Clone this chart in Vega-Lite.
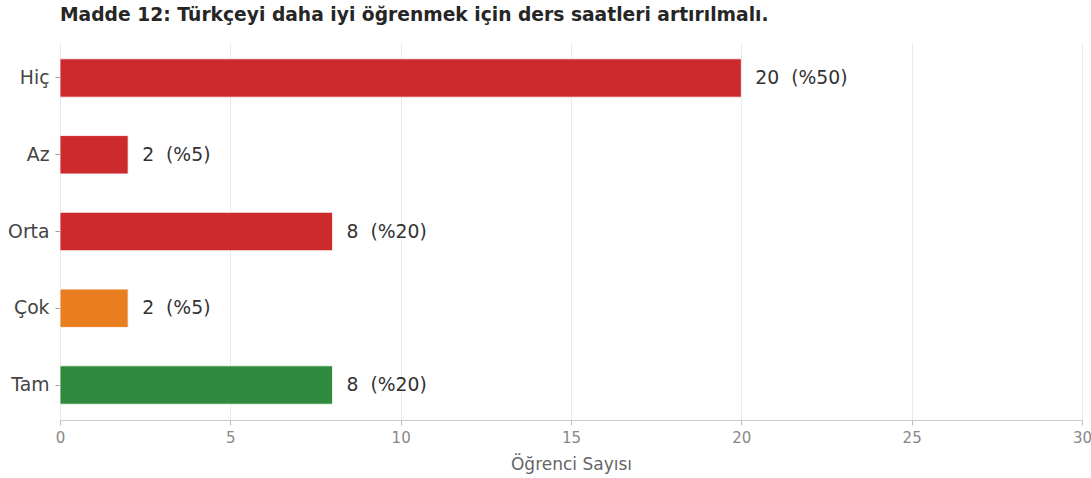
{
  "$schema": "https://vega.github.io/schema/vega-lite/v6.json",
  "width": 1022,
  "height": 377,
  "autosize": {"type": "none"},
  "padding": {"left": 60, "top": 43, "right": 9, "bottom": 58},
  "background": "white",
  "title": {
    "text": "Madde 12: Türkçeyi daha iyi öğrenmek için ders saatleri artırılmalı.",
    "anchor": "start",
    "frame": "group",
    "font": "DejaVu Sans",
    "fontSize": 18.7,
    "fontWeight": "bold",
    "color": "#262626",
    "offset": 18
  },
  "config": {
    "view": {"stroke": null},
    "font": "DejaVu Sans"
  },
  "data": {
    "values": [
      {"cevap": "Hiç", "n": 20, "label": "20 \u00a0(%50)", "grup": "olumsuz"},
      {"cevap": "Az", "n": 2, "label": "2 \u00a0(%5)", "grup": "olumsuz"},
      {"cevap": "Orta", "n": 8, "label": "8 \u00a0(%20)", "grup": "olumsuz"},
      {"cevap": "Çok", "n": 2, "label": "2 \u00a0(%5)", "grup": "orta"},
      {"cevap": "Tam", "n": 8, "label": "8 \u00a0(%20)", "grup": "olumlu"}
    ]
  },
  "encoding": {
    "y": {
      "field": "cevap",
      "type": "nominal",
      "sort": null,
      "scale": {"paddingInner": 0.5, "paddingOuter": 0.206},
      "axis": {
        "title": null,
        "domain": false,
        "ticks": true,
        "tickSize": 5,
        "tickColor": "#999999",
        "labelFont": "DejaVu Sans",
        "labelFontSize": 18.8,
        "labelColor": "#444444",
        "labelPadding": 6,
        "grid": false
      }
    },
    "x": {
      "field": "n",
      "type": "quantitative",
      "scale": {"domain": [0, 30], "nice": false},
      "axis": {
        "title": "Öğrenci Sayısı",
        "titleFont": "DejaVu Sans",
        "titleFontSize": 17,
        "titleFontWeight": "normal",
        "titleColor": "#666666",
        "titlePadding": 11,
        "values": [0, 5, 10, 15, 20, 25, 30],
        "labelFlush": false,
        "labelFont": "DejaVu Sans",
        "labelFontSize": 15,
        "labelColor": "#888888",
        "labelPadding": 5,
        "tickSize": 5,
        "tickColor": "#bbbbbb",
        "domainColor": "#cccccc",
        "grid": true,
        "gridColor": "#eaeaea",
        "gridWidth": 1
      }
    }
  },
  "layer": [
    {
      "mark": {"type": "bar", "stroke": "white", "strokeWidth": 0.8},
      "encoding": {
        "color": {
          "field": "grup",
          "type": "nominal",
          "scale": {"domain": ["olumsuz", "orta", "olumlu"], "range": ["#cc2a2c", "#e87e20", "#2e8b3e"]},
          "legend": null
        }
      }
    },
    {
      "mark": {"type": "text", "align": "left", "baseline": "middle", "dx": 14, "font": "DejaVu Sans", "fontSize": 18.8, "color": "#333333"},
      "encoding": {"text": {"field": "label"}}
    }
  ]
}
